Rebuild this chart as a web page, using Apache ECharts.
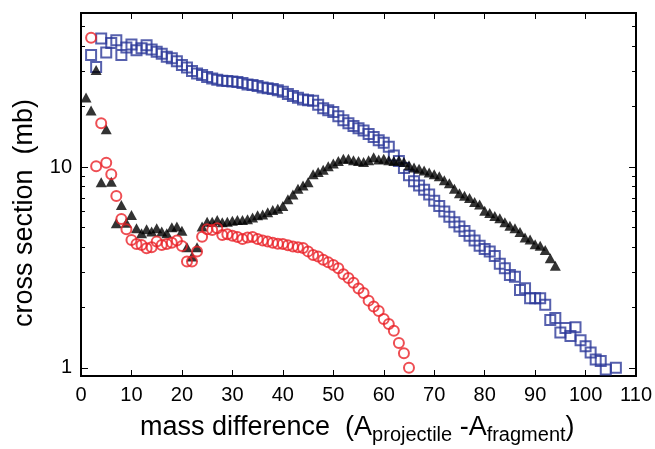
<!DOCTYPE html>
<html><head><meta charset="utf-8">
<script src="https://cdn.jsdelivr.net/npm/echarts@6/dist/echarts.min.js"></script>
<style>html,body{margin:0;padding:0;background:#fff}#c{width:655px;height:449px}</style>
</head><body><div id="c"></div>
<script>
// x tick labels
const xTicks = [0,10,20,30,40,50,60,70,80,90,100,110];
const yLabelValues = [1, 10];
const yMinorTicks = [2,3,4,5,6,7,8,9,20,30,40,50];

// blue squares
const blueX = [2,3,4,5,6,7,8,9,10,11,12,13,14,15,16,17,18,19,20,21,22,23,24,25,26,27,28,29,30,31,32,33,34,35,36,37,38,39,40,41,42,43,44,45,46,47,48,49,50,51,52,53,54,55,56,57,58,59,60,61,62,63,64,65,66,67,68,69,70,71,72,73,74,75,76,77,78,79,80,81,82,83,84,85,86,87,88,89,90,91,92,93,94,95,96,97,98,99,100,101,102,103,104,106];
const blueY = [36.1,31.5,43.7,37.2,41.5,42.8,36.1,39.4,40.8,38.2,39,40.4,38.5,37.5,36.7,35.4,34.8,33.6,32.2,31.3,30.1,29.2,28.7,28.1,27.6,27.2,26.9,26.8,26.7,26.5,26.2,25.8,25.6,25.3,24.9,24.7,24.5,24.1,23.7,23.1,22.6,22.1,21.7,21.5,21.4,20.4,19.6,19.2,18.8,17.9,17.1,16.5,16.0,15.6,15.2,14.6,14.1,13.6,13.2,12.6,11.4,10.7,9.9,9.1,8.5,8.1,7.7,7.3,6.8,6.4,6.0,5.65,5.3,5.05,4.8,4.55,4.3,4.05,3.9,3.79,3.6,3.3,3.13,2.9,2.84,2.44,2.49,2.22,2.22,2.22,2.06,1.73,1.77,1.5,1.58,1.44,1.59,1.37,1.28,1.19,1.10,1.08,0.98,1.0];

// black triangles
const blackX = [1,2,3,4,5,6,7,8,9,10,11,12,13,14,15,16,17,18,19,20,21,22,23,24,25,26,27,28,29,30,31,32,33,34,35,36,37,38,39,40,41,42,43,44,45,46,47,48,49,50,51,52,53,54,55,56,57,58,59,60,61,62,63,64,65,66,67,68,69,70,71,72,73,74,75,76,77,78,79,80,81,82,83,84,85,86,87,88,89,90,91,92,93,94];
const blackY = [22.2,19.1,30.4,8.4,15.4,8.45,5.25,6.47,5.28,5.77,4.96,4.68,4.9,4.77,4.96,4.77,4.68,5.01,5.05,4.82,3.98,3.58,3.98,5.05,5.34,5.34,5.45,5.3,5.34,5.4,5.45,5.45,5.5,5.6,5.75,5.8,5.95,6.1,6.2,6.4,6.9,7.3,7.8,8.1,8.4,9.2,9.45,9.7,10.1,10.4,10.7,11.0,11.0,10.8,10.7,10.6,10.8,11.2,10.9,11.0,10.8,10.7,10.8,10.6,10.2,9.95,9.8,9.6,9.4,9.2,9.0,8.6,8.3,7.8,7.4,7.2,7.0,6.7,6.5,6.06,5.9,5.7,5.55,5.3,5.1,4.95,4.75,4.45,4.35,4.12,4.05,3.86,3.51,3.22];

// red circles
const redX = [2,3,4,5,6,7,8,9,10,11,12,13,14,15,16,17,18,19,20,21,22,23,24,25,26,27,28,29,30,31,32,33,34,35,36,37,38,39,40,41,42,43,44,45,46,47,48,49,50,51,52,53,54,55,56,57,58,59,60,61,62,63,64,65];
const redY = [44,10.1,16.5,10.5,9.2,7.17,5.51,4.9,4.33,4.14,4.09,3.94,3.98,4.25,4.09,4.14,4.2,4.3,4.04,3.38,3.38,3.79,4.5,4.9,4.85,4.96,4.59,4.62,4.54,4.48,4.38,4.45,4.48,4.38,4.3,4.25,4.2,4.15,4.14,4.08,4.02,3.98,3.95,3.8,3.65,3.58,3.45,3.35,3.25,3.13,2.92,2.8,2.65,2.48,2.36,2.16,2.02,1.92,1.75,1.65,1.53,1.33,1.18,1.0];

const zip = (xs, ys) => xs.map((x, i) => [x, ys[i]]);
const FONT = 'Liberation Sans';
const YMIN = 0.91, YMAX = 58.5;

function yAx(pos, ticks, len, labels) {
  return {
    type: 'log', logBase: 10, min: YMIN, max: YMAX, position: pos,
    axisLine: { show: true, lineStyle: { color: '#000', width: 2 } },
    axisTick: { show: true, inside: true, length: len, customValues: ticks, lineStyle: { color: '#000', width: 1 } },
    axisLabel: labels ? { show: true, customValues: labels, fontFamily: FONT, fontSize: 20, color: '#000', margin: 9 } : { show: false },
    splitLine: { show: false }, minorTick: { show: false }
  };
}
function xAx(pos, labels) {
  return {
    type: 'value', min: 0, max: 110, interval: 10, position: pos,
    axisLine: { show: true, onZero: false, lineStyle: { color: '#000', width: 2 } },
    axisTick: { show: true, inside: true, length: 6, lineStyle: { color: '#000', width: 1 } },
    axisLabel: labels ? { show: true, fontFamily: FONT, fontSize: 20, color: '#000', margin: 9,
      formatter: v => xTicks.includes(v) ? String(v) : '' } : { show: false },
    splitLine: { show: false }
  };
}

const chart = echarts.init(document.getElementById('c'), null, { renderer: 'canvas' });
chart.setOption({
  animation: false,
  backgroundColor: '#fff',
  grid: { left: 81, right: 17, top: 13, bottom: 73 },
  xAxis: [xAx('bottom', true), xAx('top', false)],
  yAxis: [yAx('left', yLabelValues, 7, yLabelValues), yAx('left', yMinorTicks, 4, null),
          yAx('right', yLabelValues, 7, null), yAx('right', yMinorTicks, 4, null)],
  series: [
    { type: 'scatter', data: zip(blueX, blueY), symbol: 'rect', symbolSize: 10,
      itemStyle: { color: 'rgba(0,0,0,0)', borderColor: '#2c3898', borderWidth: 2 } },
    { type: 'scatter', data: zip(blackX, blackY), symbol: 'triangle', symbolSize: [11, 10],
      itemStyle: { color: '#000' } },
    { type: 'scatter', data: zip(redX, redY), symbol: 'circle', symbolSize: 10,
      itemStyle: { color: 'rgba(0,0,0,0)', borderColor: '#ea2228', borderWidth: 2 } }
  ],
  graphic: [
    { type: 'text', x: 25, y: 213, rotation: Math.PI / 2,
      style: { text: 'cross section  (mb)', font: '27px "Liberation Sans"', fill: '#000', align: 'center', verticalAlign: 'middle' } },
    { type: 'text', x: 140, y: 428,
      style: { text: 'mass difference  (A{s|projectile} -A{s|fragment})', font: '27px "Liberation Sans"', fill: '#000',
        align: 'left', verticalAlign: 'middle', lineHeight: 34,
        rich: { s: { fontFamily: FONT, fontSize: 20, lineHeight: 20, verticalAlign: 'bottom', padding: [14, 0, 0, 0] } } } }
  ]
});
</script></body></html>
